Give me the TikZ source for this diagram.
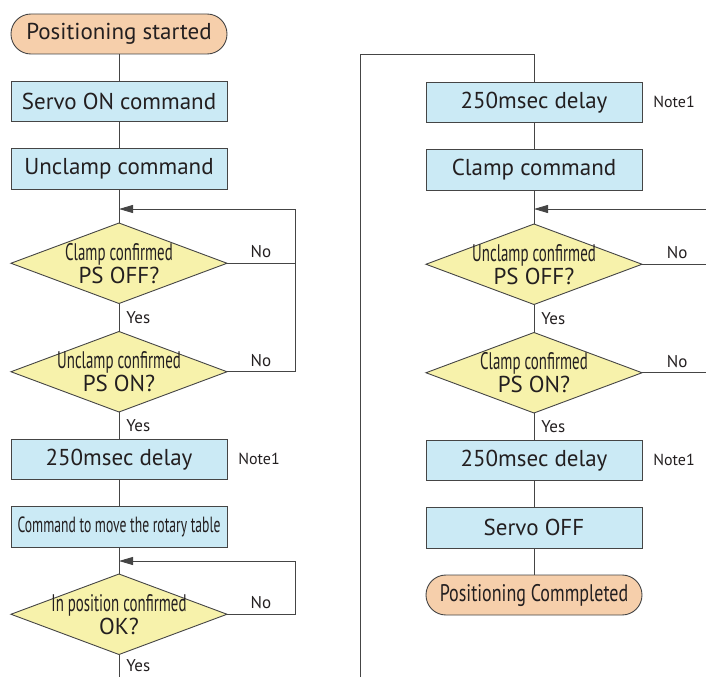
\documentclass[tikz,border=0pt]{standalone}
\usepackage{fontspec}
\setmainfont{PT Sans}
\newfontfamily\narrowfont[FakeStretch=0.62]{PT Sans}
\newfontfamily\semifont[FakeStretch=0.75]{PT Sans}
\usetikzlibrary{positioning,shapes.geometric,arrows.meta}
\definecolor{termfill}{HTML}{F6CFAB}
\definecolor{procfill}{HTML}{CBEAF5}
\definecolor{askfill}{HTML}{F7F2AB}
\definecolor{linegray}{HTML}{454545}
\definecolor{inkgray}{HTML}{231F20}
\newcommand\asktop[1]{{\narrowfont\fontsize{24}{23}\selectfont #1}}
\tikzset{
  every node/.style={text=inkgray,outer sep=0pt},
  termbox/.style={draw=linegray,fill=termfill,line width=0.9pt,rounded corners=19.9pt,
    minimum width=216pt,minimum height=40pt,font=\fontsize{23}{26}\selectfont},
  procbox/.style={draw=linegray,fill=procfill,line width=0.9pt,
    minimum width=216pt,minimum height=40.5pt,inner sep=2pt,font=\fontsize{23}{26}\selectfont},
  askbox/.style={diamond,aspect=2.7,draw=linegray,fill=askfill,line width=0.9pt,inner sep=-6pt,
    minimum width=216pt,minimum height=80.5pt,align=center,font=\fontsize{23}{23}\selectfont},
  wire/.style={draw=linegray,line width=0.9pt},
  back/.style={wire,-{Triangle[length=14pt,width=8pt]}},
  nolbl/.style={above=2pt,font=\fontsize{17}{19}\selectfont},
  yeslbl/.style={right=4pt,font=\fontsize{17}{19}\selectfont},
  notelbl/.style={right=8pt,font=\fontsize{16}{18}\selectfont}
}
\begin{document}
\begin{tikzpicture}[x=1pt,y=-1pt,node distance=27pt]
  \useasboundingbox (0,0) rectangle (706,677);

  \node[termbox] (start) at (119,34) {Positioning started};
  \node[procbox,below=of start] (servoon) {Servo ON command};
  \node[procbox,below=of servoon] (unclamp) {Unclamp command};
  \node[askbox,below=34pt of unclamp] (askoff) {\asktop{Clamp confirmed}\\PS OFF?};
  \node[askbox,below=28pt of askoff] (askon) {\asktop{Unclamp confirmed}\\PS ON?};
  \node[procbox,below=of askon] (delayA) {250msec delay};
  \node[procbox,below=of delayA] (rotate) {\narrowfont\fontsize{22}{24}\selectfont Command to move the rotary table};
  \node[askbox,below=of rotate] (inpos) {\asktop{In position confirmed}\\OK?};

  \node[procbox] (delayB) at (534,102.25) {250msec delay};
  \node[procbox,below=of delayB] (clamp) {Clamp command};
  \node[askbox,below=34pt of clamp] (askoffB) {\asktop{Unclamp confirmed}\\PS OFF?};
  \node[askbox,below=28pt of askoffB] (askonB) {\asktop{Clamp confirmed}\\PS ON?};
  \node[procbox,below=of askonB] (delayC) {250msec delay};
  \node[procbox,below=of delayC] (servooff) {Servo OFF};
  \node[termbox,below=of servooff] (done) {\semifont\fontsize{24}{26}\selectfont Positioning Commpleted};

  \node[notelbl] at (delayA.east) {Note1};
  \node[notelbl] at (delayB.east) {Note1};
  \node[notelbl] at (delayC.east) {Note1};

  \coordinate (retA) at (119,209);
  \coordinate (retB) at (119,561);
  \coordinate (retC) at (534,209);
  \coordinate (edgeC) at (706,209);
  \coordinate (leftbot) at (119,677);
  \coordinate (contbot) at (360,677);
  \coordinate (conttop) at (360,54);

  \draw[wire] (start) -- (servoon);
  \draw[wire] (servoon) -- (unclamp);
  \draw[wire] (unclamp) -- (askoff);
  \draw[wire] (askoff) -- node[yeslbl]{Yes} (askon);
  \draw[wire] (askon) -- node[yeslbl]{Yes} (delayA);
  \draw[wire] (delayA) -- (rotate);
  \draw[wire] (rotate) -- (inpos);
  \draw[wire] (inpos) -- node[yeslbl]{Yes} (leftbot);
  \draw[wire] (askoff.east) -- node[nolbl]{No} ++(68,0);
  \draw[back] (askon.east) -- node[nolbl]{No} ++(68,0) |- (retA);
  \draw[back] (inpos.east) -- node[nolbl]{No} ++(68,0) |- (retB);

  \draw[wire] (contbot) -- (conttop) -| (delayB);
  \draw[wire] (delayB) -- (clamp);
  \draw[wire] (clamp) -- (askoffB);
  \draw[wire] (askoffB) -- node[yeslbl]{Yes} (askonB);
  \draw[wire] (askonB) -- node[yeslbl]{Yes} (delayC);
  \draw[wire] (delayC) -- (servooff);
  \draw[wire] (servooff) -- (done);
  \draw[back] (edgeC) -- (retC);
  \draw[wire] (askoffB.east) -- node[nolbl,pos=0.55]{No} (askoffB.east -| edgeC);
  \draw[wire] (askonB.east) -- node[nolbl,pos=0.55]{No} (askonB.east -| edgeC);
\end{tikzpicture}
\end{document}
